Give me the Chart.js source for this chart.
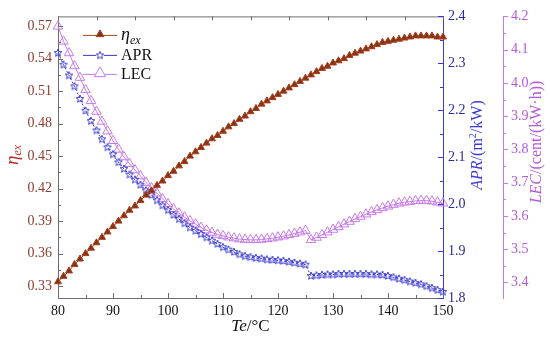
<!DOCTYPE html>
<html lang="en">
<head>
<meta charset="UTF-8" />
<title>Exergy efficiency, APR and LEC vs evaporation temperature</title>
<script src="https://cdn.jsdelivr.net/npm/chart.js"></script>
<style>
  * { margin: 0; padding: 0; box-sizing: border-box; }
  body { background: #fff; }
  .chart-box { position: relative; width: 550px; height: 342px; }
</style>
</head>
<body>
<div class="chart-box"><canvas id="teChart"></canvas></div>
<script>
// evaporation temperature Te (°C)
const temps = [80, 81, 82, 83, 84, 85, 86, 87, 88, 89,
  90, 91, 92, 93, 94, 95, 96, 97, 98, 99,
  100, 101, 102, 103, 104, 105, 106, 107, 108, 109,
  110, 111, 112, 113, 114, 115, 116, 117, 118, 119,
  120, 121, 122, 123, 124, 125, 126, 127, 128, 129,
  130, 131, 132, 133, 134, 135, 136, 137, 138, 139,
  140, 141, 142, 143, 144, 145, 146, 147, 148, 149, 150];

// exergy efficiency (left axis)
const etaEx = [0.334, 0.339, 0.344, 0.350, 0.355, 0.360, 0.365, 0.370, 0.375, 0.380,
  0.385, 0.390, 0.395, 0.400, 0.404, 0.409, 0.414, 0.418, 0.423, 0.427,
  0.432, 0.436, 0.441, 0.445, 0.450, 0.454, 0.458, 0.462, 0.466, 0.469,
  0.473, 0.477, 0.480, 0.484, 0.487, 0.491, 0.494, 0.498, 0.501, 0.504,
  0.507, 0.510, 0.513, 0.516, 0.519, 0.522, 0.525, 0.528, 0.531, 0.533,
  0.536, 0.538, 0.540, 0.543, 0.545, 0.547, 0.549, 0.551, 0.553, 0.555,
  0.556, 0.557, 0.558, 0.559, 0.560, 0.561, 0.561, 0.561, 0.561, 0.560, 0.560];

// APR, m2/kW (first right axis)
const apr = [2.322, 2.297, 2.274, 2.251, 2.224, 2.199, 2.177, 2.157, 2.138, 2.121,
  2.106, 2.089, 2.075, 2.063, 2.052, 2.041, 2.029, 2.019, 2.008, 1.997,
  1.987, 1.977, 1.968, 1.959, 1.950, 1.943, 1.936, 1.929, 1.922, 1.915,
  1.908, 1.903, 1.898, 1.893, 1.889, 1.887, 1.885, 1.884, 1.882, 1.881,
  1.880, 1.879, 1.877, 1.875, 1.873, 1.871, 1.847, 1.848, 1.849, 1.850,
  1.850, 1.851, 1.851, 1.851, 1.851, 1.851, 1.851, 1.850, 1.850, 1.849,
  1.847, 1.844, 1.841, 1.838, 1.835, 1.832, 1.829, 1.825, 1.821, 1.817, 1.813];

// LEC, cent/(kW·h) (second right axis)
const lec = [4.170, 4.125, 4.090, 4.051, 4.016, 3.979, 3.946, 3.914, 3.884, 3.855,
  3.826, 3.800, 3.777, 3.757, 3.738, 3.720, 3.700, 3.684, 3.668, 3.651,
  3.636, 3.621, 3.608, 3.596, 3.585, 3.575, 3.565, 3.557, 3.550, 3.544,
  3.540, 3.536, 3.533, 3.530, 3.529, 3.528, 3.528, 3.529, 3.531, 3.533,
  3.536, 3.539, 3.543, 3.547, 3.551, 3.556, 3.528, 3.535, 3.543, 3.551,
  3.559, 3.567, 3.575, 3.583, 3.591, 3.598, 3.605, 3.612, 3.618, 3.624,
  3.629, 3.634, 3.638, 3.641, 3.643, 3.645, 3.646, 3.646, 3.644, 3.641, 3.638];

const tempTicks = [80, 90, 100, 110, 120, 130, 140, 150];
const topTicks = [80, 87, 94, 101, 108, 115, 122, 129, 136, 143, 150];
const etaTicks = [0.33, 0.36, 0.39, 0.42, 0.45, 0.48, 0.51, 0.54, 0.57];
const aprTicks = [1.8, 1.9, 2.0, 2.1, 2.2, 2.3, 2.4];
const lecTicks = [3.4, 3.5, 3.6, 3.7, 3.8, 3.9, 4.0, 4.1, 4.2];

const axisGrey = '#6e6e6e';
const etaFill = '#7b3a12', etaEdge = '#b0381e', etaLine = '#9a4a1c';
const etaText = '#8e3b2e', etaTitle = '#c0302a';
const aprColor = '#3a3ad0', aprText = '#2a2a9a';
const lecColor = '#c77ae8', lecText = '#b45ad8';
const serif = "'Liberation Serif', 'DejaVu Serif', serif";

Chart.defaults.font.family = serif;
Chart.defaults.font.size = 14;

function starImage(color, r) {
  const c = document.createElement('canvas');
  const s = Math.ceil(r * 2 + 2);
  c.width = c.height = s;
  const g = c.getContext('2d');
  g.strokeStyle = color;
  g.lineWidth = 1;
  g.beginPath();
  for (let i = 0; i < 10; i++) {
    const ang = -Math.PI / 2 + i * Math.PI / 5;
    const rr = i % 2 ? r * 0.45 : r;
    g.lineTo(s / 2 + rr * Math.cos(ang), s / 2 + rr * Math.sin(ang));
  }
  g.closePath();
  g.stroke();
  return c;
}
const star = starImage(aprColor, 4);

function pts(ys) {
  return temps.map((t, i) => ({ x: t, y: ys[i] }));
}

function setTicks(list) {
  return s => { s.ticks = list.map(v => ({ value: v })); };
}

function mids(list) {
  const out = [];
  for (let i = 0; i < list.length - 1; i++) out.push((list[i] + list[i + 1]) / 2);
  return out;
}

function drawRich(ctx, parts, x, y) {
  let w = 0;
  parts.forEach(p => { ctx.font = p.f; w += ctx.measureText(p.t).width; });
  let cx = x - w / 2;
  ctx.textAlign = 'left';
  ctx.textBaseline = 'middle';
  parts.forEach(p => {
    ctx.font = p.f;
    ctx.fillText(p.t, cx, y + (p.dy || 0));
    cx += ctx.measureText(p.t).width;
  });
}

function drawTri(ctx, x, y, r, fill, stroke) {
  ctx.beginPath();
  ctx.moveTo(x, y - r);
  ctx.lineTo(x + r * 0.866, y + r * 0.5);
  ctx.lineTo(x - r * 0.866, y + r * 0.5);
  ctx.closePath();
  if (fill) { ctx.fillStyle = fill; ctx.fill(); }
  ctx.strokeStyle = stroke;
  ctx.stroke();
}

// frame, inward ticks, axis titles and legend
const decor = {
  id: 'decor',
  afterDraw(chart) {
    const { ctx, chartArea: a, scales } = chart;
    const line = (x1, y1, x2, y2) => {
      ctx.beginPath(); ctx.moveTo(x1, y1); ctx.lineTo(x2, y2); ctx.stroke();
    };
    ctx.save();
    ctx.lineWidth = 1;

    ctx.strokeStyle = axisGrey;
    line(a.left, a.top + 0.5, a.right, a.top + 0.5);
    topTicks.forEach(t => {
      const x = Math.round(scales.x.getPixelForValue(t)) + 0.5;
      line(x, a.top, x, a.top + 4);
    });
    tempTicks.forEach(t => {
      const x = Math.round(scales.x.getPixelForValue(t)) + 0.5;
      line(x, a.bottom, x, a.bottom - 5);
    });
    mids(tempTicks).forEach(t => {
      const x = Math.round(scales.x.getPixelForValue(t)) + 0.5;
      line(x, a.bottom, x, a.bottom - 3);
    });
    etaTicks.forEach(v => {
      const y = Math.round(scales.eta.getPixelForValue(v)) + 0.5;
      line(a.left, y, a.left + 5, y);
    });
    mids(etaTicks).forEach(v => {
      const y = Math.round(scales.eta.getPixelForValue(v)) + 0.5;
      line(a.left, y, a.left + 3, y);
    });

    ctx.strokeStyle = aprColor;
    aprTicks.forEach(v => {
      const y = Math.round(scales.apr.getPixelForValue(v)) + 0.5;
      line(a.right, y, a.right - 5, y);
    });
    mids(aprTicks).forEach(v => {
      const y = Math.round(scales.apr.getPixelForValue(v)) + 0.5;
      line(a.right, y, a.right - 3, y);
    });

    ctx.strokeStyle = lecColor;
    const lx = scales.lec.left;
    lecTicks.forEach(v => {
      const y = Math.round(scales.lec.getPixelForValue(v)) + 0.5;
      line(lx, y, lx + 5, y);
    });
    mids(lecTicks).forEach(v => {
      const y = Math.round(scales.lec.getPixelForValue(v)) + 0.5;
      line(lx, y, lx + 3, y);
    });

    // axis titles
    ctx.fillStyle = '#111';
    drawRich(ctx, [
      { t: 'Te', f: 'italic 17px ' + serif },
      { t: '/°C', f: '17px ' + serif }
    ], (a.left + a.right) / 2, 327);

    ctx.save();
    ctx.translate(13, 155);
    ctx.rotate(-Math.PI / 2);
    ctx.fillStyle = etaTitle;
    drawRich(ctx, [
      { t: 'η', f: 'italic 19px ' + serif },
      { t: 'ex', f: 'italic 12px ' + serif, dy: 5 }
    ], 0, 0);
    ctx.restore();

    ctx.save();
    ctx.translate(478, 145);
    ctx.rotate(-Math.PI / 2);
    ctx.fillStyle = aprColor;
    drawRich(ctx, [
      { t: 'APR', f: 'italic 16px ' + serif },
      { t: '/(m', f: '16px ' + serif },
      { t: '2', f: '10px ' + serif, dy: -5 },
      { t: '/kW)', f: '16px ' + serif }
    ], 0, 0);
    ctx.restore();

    ctx.save();
    ctx.translate(537, 142);
    ctx.rotate(-Math.PI / 2);
    ctx.fillStyle = lecText;
    drawRich(ctx, [
      { t: 'LEC', f: 'italic 16px ' + serif },
      { t: '/(cent/(kW·h))', f: '16px ' + serif }
    ], 0, 0);
    ctx.restore();

    // legend
    const x0 = a.left + 25, x1 = a.left + 59, xm = (x0 + x1) / 2, tx = a.left + 63;
    const rows = [a.top + 19, a.top + 39, a.top + 58];
    ctx.strokeStyle = etaLine;
    line(x0, rows[0], x1, rows[0]);
    drawTri(ctx, xm, rows[0] - 1, 4.5, etaFill, etaEdge);
    ctx.strokeStyle = aprColor;
    line(x0, rows[1], x1, rows[1]);
    ctx.fillStyle = '#fff';
    ctx.fillRect(xm - 4, rows[1] - 4, 8, 8);
    ctx.drawImage(star, xm - star.width / 2, rows[1] - star.height / 2);
    ctx.strokeStyle = lecColor;
    line(x0, rows[2], x1, rows[2]);
    ctx.fillStyle = '#fff';
    drawTri(ctx, xm, rows[2] - 1, 6.5, '#fff', lecColor);

    ctx.fillStyle = '#111';
    ctx.textAlign = 'left';
    ctx.textBaseline = 'middle';
    ctx.font = 'italic 18px ' + serif;
    ctx.fillText('η', tx, rows[0]);
    const ew = ctx.measureText('η').width;
    ctx.font = 'italic 12px ' + serif;
    ctx.fillText('ex', tx + ew, rows[0] + 5);
    ctx.font = '16px ' + serif;
    ctx.fillText('APR', tx, rows[1]);
    ctx.fillText('LEC', tx, rows[2]);

    ctx.restore();
  }
};

new Chart(document.getElementById('teChart'), {
  type: 'line',
  data: {
    datasets: [
      {
        label: 'ηex',
        data: pts(etaEx),
        yAxisID: 'eta',
        borderColor: etaLine,
        borderWidth: 1,
        pointStyle: 'triangle',
        pointRadius: 4,
        pointBackgroundColor: etaFill,
        pointBorderColor: etaEdge,
        pointBorderWidth: 1,
        clip: false
      },
      {
        label: 'APR',
        data: pts(apr),
        yAxisID: 'apr',
        borderColor: aprColor,
        borderWidth: 1,
        borderDash: [2, 2],
        pointStyle: star,
        pointRadius: 4,
        clip: false
      },
      {
        label: 'LEC',
        data: pts(lec),
        yAxisID: 'lec',
        borderColor: lecColor,
        borderWidth: 1,
        pointStyle: 'triangle',
        pointRadius: 5.5,
        pointBackgroundColor: 'rgba(255,255,255,0)',
        pointBorderColor: lecColor,
        pointBorderWidth: 1,
        clip: false
      }
    ]
  },
  options: {
    responsive: true,
    maintainAspectRatio: false,
    animation: false,
    layout: { padding: { top: 13, left: 0, right: 0, bottom: 0 } },
    plugins: { legend: { display: false }, tooltip: { enabled: false } },
    scales: {
      x: {
        type: 'linear',
        min: 80,
        max: 150,
        afterBuildTicks: setTicks(tempTicks),
        afterFit: s => { s.height = 44; },
        grid: { display: false, drawTicks: false },
        border: { color: axisGrey },
        ticks: { color: '#111', padding: 5, maxRotation: 0, autoSkip: false }
      },
      eta: {
        position: 'left',
        min: 0.319,
        max: 0.579,
        afterBuildTicks: setTicks(etaTicks),
        afterFit: s => { s.width = 58; },
        grid: { display: false, drawTicks: false },
        border: { color: axisGrey },
        ticks: { color: etaText, padding: 6, callback: v => v.toFixed(2) }
      },
      apr: {
        position: 'right',
        weight: 0,
        min: 1.8,
        max: 2.4,
        afterBuildTicks: setTicks(aprTicks),
        afterFit: s => { s.width = 60; },
        grid: { display: false, drawTicks: false },
        border: { color: aprColor },
        ticks: { color: aprText, padding: 5, callback: v => v.toFixed(1) }
      },
      lec: {
        position: 'right',
        weight: 1,
        min: 3.353,
        max: 4.2,
        afterBuildTicks: setTicks(lecTicks),
        afterFit: s => { s.width = 47; },
        grid: { display: false, drawTicks: false },
        border: { color: lecColor },
        ticks: { color: lecText, padding: 8, callback: v => v.toFixed(1) }
      }
    }
  },
  plugins: [decor]
});
</script>
</body>
</html>
